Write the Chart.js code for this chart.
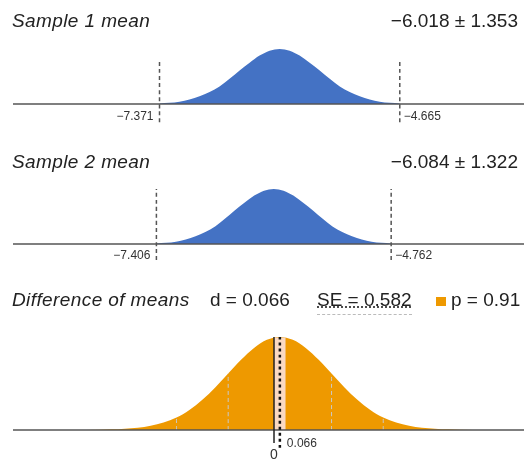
<!DOCTYPE html>
<html>
<head>
<meta charset="utf-8">
<script src="https://cdn.jsdelivr.net/npm/chart.js@4/dist/chart.umd.min.js"></script>
<style>
  body { margin: 0; background: #fff; }
  #wrap { position: relative; width: 524px; height: 461px; overflow: hidden;
          font-family: "Liberation Sans", Arial, sans-serif; color: #222; }
  canvas { position: absolute; left: 0; }
  .hd { position: absolute; font-size: 19px; line-height: 19px; white-space: nowrap; }
  .it { font-style: italic; letter-spacing: 0.4px; }
  .se { text-decoration: underline dotted #444; text-underline-offset: 1px;
        border-bottom: 1px dashed #bbb; padding-bottom: 4px; }
  .sq { display: inline-block; width: 10px; height: 9px; background: #ee9900; margin-right: 5px; }
</style>
</head>
<body>
<div id="wrap">
  <canvas id="c1" width="524" height="130" style="top:0"></canvas>
  <canvas id="c2" width="524" height="140" style="top:130px"></canvas>
  <canvas id="c3" width="524" height="191" style="top:270px"></canvas>

  <div class="hd it" style="left:12px; top:11px">Sample 1 mean</div>
  <div class="hd" style="right:6px; top:11px">−6.018 ± 1.353</div>
  <div class="hd it" style="left:12px; top:152px">Sample 2 mean</div>
  <div class="hd" style="right:6px; top:152px">−6.084 ± 1.322</div>
  <div class="hd it" style="left:12px; top:290px">Difference of means</div>
  <div class="hd" style="left:210px; top:290px">d = 0.066</div>
  <div class="hd" style="left:317px; top:290px"><span class="se">SE = 0.582</span></div>
  <div class="hd" style="left:436px; top:290px"><span class="sq"></span>p = 0.91</div>
</div>
<script>
// muestra 1: media, intervalo y curva
const s1Lo = -7.371, s1Hi = -4.665;
const s1X = [-7.371, -7.146, -6.920, -6.807, -6.695, -6.582, -6.469, -6.356, -6.244, -6.131, -6.018,
             -5.905, -5.793, -5.680, -5.567, -5.454, -5.341, -5.229, -5.116, -4.891, -4.665];
const s1H = [0.01, 0.04, 0.14, 0.22, 0.32, 0.46, 0.61, 0.75, 0.88, 0.97, 1.00,
             0.97, 0.88, 0.75, 0.61, 0.46, 0.32, 0.22, 0.14, 0.04, 0.01];

// muestra 2
const s2Lo = -7.406, s2Hi = -4.762;
const s2X = [-7.406, -7.186, -6.965, -6.855, -6.745, -6.635, -6.525, -6.415, -6.304, -6.194, -6.084,
             -5.974, -5.864, -5.753, -5.643, -5.533, -5.423, -5.313, -5.203, -4.982, -4.762];
const s2H = [0.01, 0.04, 0.14, 0.22, 0.32, 0.46, 0.61, 0.75, 0.88, 0.97, 1.00,
             0.97, 0.88, 0.75, 0.61, 0.46, 0.32, 0.22, 0.14, 0.04, 0.01];

// diferencia de medias
const dVal = 0.066;
const dX = [-2.262, -1.971, -1.680, -1.389, -1.098, -0.953, -0.807, -0.662, -0.516, -0.371, -0.225, -0.080, 0.066,
            0.212, 0.357, 0.503, 0.648, 0.794, 0.939, 1.085, 1.230, 1.521, 1.812, 2.103, 2.394];
const dH = [0.001, 0.004, 0.013, 0.046, 0.135, 0.216, 0.325, 0.458, 0.607, 0.755, 0.882, 0.969, 1.000,
            0.969, 0.882, 0.755, 0.607, 0.458, 0.325, 0.216, 0.135, 0.046, 0.013, 0.004, 0.001];
const bandX = [0, 0.132];
const bandH = [0.994, 0.994];
const seX = [-1.098, -0.516, 0.648, 1.230];   // ±1 y ±2 SE
const seH = [0.135, 0.607, 0.607, 0.135];

const BLUE = '#4472c4', ORANGE = '#ee9900', AXIS = '#555';

function pts(xs, ys) { return xs.map((x, i) => ({ x: x, y: ys[i] })); }
function vline(x, y0, y1, color, width, dash) {
    return { data: [{ x: x, y: y0 }, { x: x, y: y1 }], borderColor: color, borderWidth: width,
             borderDash: dash || [], pointRadius: 0, fill: false, tension: 0 };
}

// plugin para las etiquetas de texto junto a las líneas
const labelsPlugin = {
    id: 'labels',
    afterDatasetsDraw(chart, args, opts) {
        const c = chart.ctx, sx = chart.scales.x, sy = chart.scales.y;
        (opts.items || []).forEach(it => {
            c.save();
            c.font = it.size + 'px "Liberation Sans", Arial, sans-serif';
            c.fillStyle = '#333';
            c.textAlign = it.align;
            c.textBaseline = 'alphabetic';
            c.fillText(it.text, sx.getPixelForValue(it.x) + it.dx, sy.getPixelForValue(it.y));
            c.restore();
        });
    }
};

function makeChart(id, datasets, xr, yr, items) {
    return new Chart(document.getElementById(id), {
        type: 'line',
        data: { datasets: datasets },
        options: {
            responsive: false,
            animation: false,
            layout: { padding: { left: 13, right: 0, top: 0, bottom: 0 } },
            elements: { line: { cubicInterpolationMode: 'monotone' } },
            scales: {
                x: { type: 'linear', min: xr[0], max: xr[1], display: false },
                y: { min: yr[0], max: yr[1], display: false }
            },
            plugins: { legend: { display: false }, tooltip: { enabled: false }, labels: { items: items } }
        },
        plugins: [labelsPlugin]
    });
}

const xs12 = [-9.021, -3.266];

makeChart('c1', [
    vline(s1Lo, -0.33, 0.82, AXIS, 1.5, [4, 3]),
    vline(s1Hi, -0.33, 0.82, AXIS, 1.5, [4, 3]),
    { data: [{ x: xs12[0], y: 0 }, { x: xs12[1], y: 0 }], borderColor: AXIS, borderWidth: 1.5, pointRadius: 0 },
    { data: pts(s1X, s1H), fill: 'origin', backgroundColor: BLUE, borderColor: BLUE, borderWidth: 0, pointRadius: 0 }
], xs12, [-0.473, 1.891], [
    { text: '−7.371', x: s1Lo, y: -0.29, dx: -6, align: 'right', size: 12 },
    { text: '−4.665', x: s1Hi, y: -0.29, dx: 4, align: 'left', size: 12 }
]);

makeChart('c2', [
    vline(s2Lo, -0.29, 1.0, AXIS, 1.5, [4, 3]),
    vline(s2Hi, -0.29, 1.0, AXIS, 1.5, [4, 3]),
    { data: [{ x: xs12[0], y: 0 }, { x: xs12[1], y: 0 }], borderColor: AXIS, borderWidth: 1.5, pointRadius: 0 },
    { data: pts(s2X, s2H), fill: 'origin', backgroundColor: BLUE, borderColor: BLUE, borderWidth: 0, pointRadius: 0 }
], xs12, [-0.473, 2.073], [
    { text: '−7.406', x: s2Lo, y: -0.27, dx: -6, align: 'right', size: 12 },
    { text: '−4.762', x: s2Hi, y: -0.27, dx: 4, align: 'left', size: 12 }
]);

const seLines = seX.map((x, i) => vline(x, 0, seH[i], '#c9c9c9', 1, [4, 3]));

makeChart('c3', [
    vline(dVal, -0.19, 1.0, '#111', 2.5, [3, 3]),
    vline(0, -0.14, 1.0, '#222', 1.5),
    { data: [{ x: -2.939, y: 0 }, { x: 2.815, y: 0 }], borderColor: AXIS, borderWidth: 1.5, pointRadius: 0 },
    ...seLines,
    { data: pts(bandX, bandH), fill: 'origin', backgroundColor: '#fad9c2', borderWidth: 0, pointRadius: 0, tension: 0 },
    { data: pts(dX, dH), fill: 'origin', backgroundColor: ORANGE, borderColor: ORANGE, borderWidth: 0, pointRadius: 0 }
], [-2.939, 2.815], [-0.333, 1.720], [
    { text: '0.066', x: dVal, y: -0.18, dx: 7, align: 'left', size: 12 },
    { text: '0', x: 0, y: -0.31, dx: 0, align: 'center', size: 14 }
]);
</script>
</body>
</html>
